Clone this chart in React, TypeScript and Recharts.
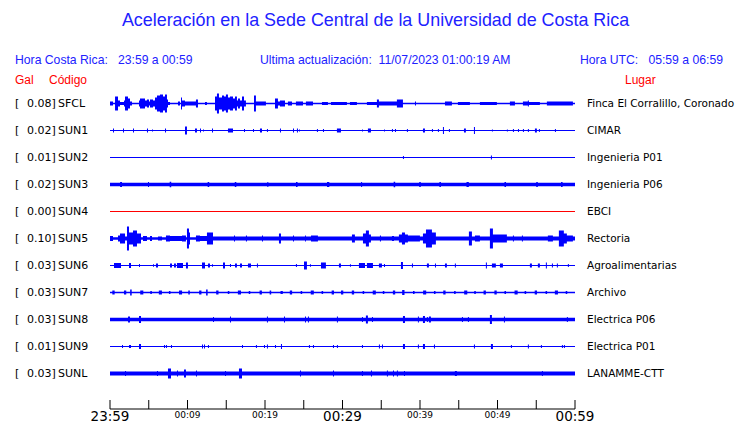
import { ComposedChart, Area, XAxis, YAxis } from 'recharts'

// station rows, top to bottom
const stations = ['SFCL', 'SUN1', 'SUN2', 'SUN3', 'SUN4', 'SUN5', 'SUN6', 'SUN7', 'SUN8', 'SUN9', 'SUNL']
const peakGal = ['0.08', '0.02', '0.01', '0.02', '0.00', '0.10', '0.03', '0.03', '0.03', '0.01', '0.03']
const places = [
  'Finca El Corralillo, Coronado',
  'CIMAR',
  'Ingenieria P01',
  'Ingenieria P06',
  'EBCI',
  'Rectoria',
  'Agroalimentarias',
  'Archivo',
  'Electrica P06',
  'Electrica P01',
  'LANAMME-CTT',
]

// minutes after 23:59
const tickMinutes = [0, 5, 10, 15, 20, 25, 30, 35, 40, 45, 50, 55, 60]
const tickLabels = ['23:59', '', '00:09', '', '00:19', '', '00:29', '', '00:39', '', '00:49', '', '00:59']

// quiet half-amplitude of each trace (row spacing = 27 units)
const baseAmp = [0.8, 0.6, 0.5, 1.8, 0.5, 2, 0.6, 0.8, 1.7, 0.6, 2]

// bursts: [from minute, to minute, half amplitude]
const sfcl = [
  [0, 0.39, 2], [0.65, 1.03, 7], [1.03, 1.29, 3], [1.29, 1.81, 1.5], [1.81, 1.94, 3], [1.94, 2.32, 7],
  [2.32, 2.58, 5], [2.58, 2.84, 2], [3.74, 3.87, 3], [3.87, 4.52, 5], [4.52, 4.77, 3], [4.77, 5.03, 4],
  [5.03, 5.16, 2], [5.16, 5.55, 4], [5.55, 5.81, 3], [5.81, 6.06, 6], [6.06, 6.45, 8], [6.45, 6.84, 9],
  [6.84, 7.1, 7], [7.1, 7.35, 9], [7.35, 7.48, 4], [7.48, 7.74, 1.5], [8.77, 9.03, 2], [9.16, 9.29, 6],
  [9.29, 9.68, 3], [9.68, 11.09, 2], [11.09, 11.35, 4], [12.26, 12.51, 1.5], [13.55, 13.8, 7],
  [13.8, 14.06, 10], [14.06, 14.45, 6], [14.45, 14.71, 8], [14.71, 14.96, 7], [14.96, 15.22, 9],
  [15.22, 15.48, 6], [15.48, 15.87, 7], [15.87, 16.13, 5], [16.13, 16.38, 7], [16.38, 16.51, 3],
  [16.51, 16.77, 5], [16.77, 17.03, 3], [17.03, 17.29, 7], [17.29, 17.54, 3], [18.58, 18.83, 8],
  [18.83, 20.12, 2], [21.29, 21.67, 5], [21.67, 21.93, 2], [21.93, 22.58, 3], [22.96, 23.48, 2],
  [23.99, 24.9, 2], [25.28, 26.19, 2], [27.35, 28.12, 1.5], [28.51, 30.57, 1.5], [30.96, 31.86, 1.5],
  [33.15, 34.44, 1.5], [34.44, 34.7, 4], [34.7, 37.02, 2], [37.02, 37.8, 4], [39.35, 39.48, 2],
  [43.22, 44.12, 2], [44.89, 46.44, 1.5], [47.73, 49.92, 1.5], [51.6, 52.25, 2], [53.28, 53.92, 2],
  [53.92, 54.05, 3], [54.05, 55.47, 1.5], [56.37, 59.73, 2],
]
const sun1 = [
  [0.39, 0.52, 2], [1.68, 1.81, 2], [2.97, 3.1, 2], [4.77, 4.9, 2], [5.42, 5.55, 1], [7.1, 7.23, 2],
  [9.68, 9.93, 4], [10.97, 11.22, 2], [11.61, 11.74, 2], [12.0, 12.13, 1], [13.16, 13.29, 2],
  [15.22, 15.87, 2], [17.29, 17.42, 1.5], [18.45, 18.58, 1.5], [19.35, 19.61, 2], [20.25, 20.38, 1.5],
  [21.93, 22.06, 2], [23.61, 23.74, 2], [24.12, 24.25, 2], [24.38, 24.51, 1], [26.7, 26.83, 1.5],
  [27.48, 27.61, 1.5], [29.28, 29.8, 2], [32.51, 32.64, 1], [33.28, 33.67, 2], [35.35, 35.48, 1],
  [36.38, 36.51, 1.5], [36.77, 36.9, 1.5], [38.31, 38.44, 1.5], [40.38, 40.64, 2], [41.54, 41.67, 1.5],
  [42.31, 42.44, 1.5], [42.96, 43.09, 3.5], [43.73, 43.86, 1.5], [45.67, 45.92, 2], [46.96, 47.09, 3.5],
  [49.28, 49.41, 1], [51.21, 51.34, 1], [51.99, 52.12, 1.5], [52.64, 52.77, 1.5], [53.28, 53.41, 1.5],
  [53.92, 54.05, 1.5], [54.83, 55.08, 2], [55.34, 55.47, 1.5], [57.41, 57.54, 1.5],
]
const sun2 = [[37.8, 37.93, 1.5], [49.15, 49.28, 2]]
const sun3 = [
  [1.3, 1.55, 2.6], [4.9, 5.03, 2.5], [7.7, 7.9, 2.8], [12.6, 12.8, 2.5], [16.1, 16.3, 2.6],
  [20.3, 20.43, 2.5], [24.0, 24.2, 2.6], [28.0, 28.3, 2.5], [32.4, 32.53, 2.6], [36.6, 36.8, 2.8],
  [39.9, 40.1, 2.5], [42.5, 42.7, 2.6], [46.0, 46.3, 2.5], [50.9, 51.1, 2.6], [55.0, 55.2, 2.5],
  [58.2, 58.4, 2.6],
]
const sun4: number[][] = []
const sun5 = [
  [0, 0.39, 2.5], [0.39, 1.03, 1.2], [1.03, 1.29, 3], [1.29, 1.94, 5], [1.94, 2.19, 2], [2.19, 2.45, 12],
  [2.45, 2.97, 6], [2.97, 3.48, 8], [3.48, 4.0, 5], [4.0, 4.26, 1.2], [4.26, 4.77, 2.5], [4.77, 5.16, 1.2],
  [5.16, 5.42, 2.5], [5.42, 6.19, 1.2], [6.19, 6.71, 2], [6.71, 7.22, 1.2], [7.22, 7.74, 3],
  [7.74, 9.29, 2.5], [9.29, 9.8, 3], [9.8, 9.93, 1.2], [9.93, 10.19, 10], [10.19, 10.32, 6],
  [10.32, 11.09, 1.2], [11.09, 11.61, 3], [11.61, 12.51, 2.5], [12.51, 13.29, 6], [16.0, 16.13, 3],
  [17.54, 17.67, 3], [19.61, 19.74, 3], [21.8, 22.06, 5], [23.61, 23.74, 3], [25.16, 25.28, 3],
  [25.93, 26.83, 3], [31.22, 31.6, 4], [32.64, 33.02, 5], [33.02, 33.41, 8], [33.41, 33.67, 4],
  [34.83, 34.96, 3], [36.38, 36.64, 2.5], [37.28, 37.67, 4], [37.67, 38.06, 6], [38.06, 38.44, 4],
  [38.44, 39.99, 3], [40.38, 40.77, 5], [40.77, 41.54, 9], [41.54, 42.05, 6], [46.31, 46.7, 7],
  [47.09, 47.73, 3], [49.02, 49.41, 10], [49.41, 51.21, 4], [51.99, 52.12, 3], [53.15, 53.28, 3],
  [56.5, 57.15, 3], [57.92, 58.56, 8], [58.56, 58.95, 5], [58.95, 59.73, 3],
]
const sun6 = [
  [0.52, 1.42, 2.5], [2.45, 2.71, 2.5], [3.74, 3.87, 1.5], [5.55, 5.68, 1.2], [5.93, 6.19, 2],
  [7.74, 8.0, 2], [8.26, 8.51, 2], [8.64, 9.42, 2.5], [9.8, 10.06, 3], [11.87, 12.26, 3], [12.64, 12.9, 2],
  [13.16, 13.29, 1.2], [14.58, 14.84, 3], [15.48, 15.61, 1.5], [16.13, 16.38, 2], [16.77, 17.03, 2],
  [17.8, 18.19, 2], [18.96, 19.09, 2], [23.99, 24.12, 1.5], [25.03, 25.41, 4], [25.8, 25.93, 1.2],
  [27.22, 27.86, 3], [29.54, 29.8, 2], [30.96, 31.09, 1.2], [32.12, 32.9, 2.5], [33.15, 33.93, 2.5],
  [34.7, 35.09, 2], [35.35, 35.48, 1.5], [37.54, 37.8, 3.5], [38.96, 39.09, 2], [40.89, 41.15, 2],
  [41.93, 42.06, 2], [43.22, 43.47, 2], [44.5, 44.63, 2], [48.5, 48.63, 3], [49.28, 49.79, 2],
  [50.31, 50.7, 2], [54.18, 54.44, 2], [55.21, 55.47, 2], [56.24, 56.37, 3], [57.02, 57.15, 2],
  [57.66, 57.79, 2], [59.08, 59.21, 1.5],
]
const sun7 = [
  [0.3, 0.6, 2], [1.8, 2.1, 2], [2.6, 2.8, 3], [3.9, 4.3, 2], [5.2, 5.4, 1.5], [6.3, 6.7, 2],
  [7.6, 7.8, 1.5], [8.9, 9.3, 2], [10.1, 10.3, 2], [11.5, 11.8, 2], [12.4, 12.6, 3], [13.7, 14.0, 2],
  [15.2, 15.4, 1.5], [16.5, 16.9, 2], [17.9, 18.1, 1.5], [19.3, 19.6, 2], [20.6, 20.8, 2],
  [22.0, 22.3, 1.5], [23.2, 23.5, 2], [24.6, 24.8, 1.5], [25.9, 26.3, 2], [27.3, 27.5, 1.5],
  [28.6, 28.9, 2], [29.8, 30.1, 2], [31.2, 31.5, 2], [32.6, 32.8, 1.5], [33.9, 34.3, 2],
  [35.2, 35.4, 1.5], [36.5, 36.8, 2], [37.7, 38.0, 2.5], [39.1, 39.3, 1.5], [40.4, 40.8, 2],
  [41.8, 42.0, 1.5], [43.0, 43.3, 2], [44.4, 44.6, 1.5], [45.7, 46.1, 2], [47.0, 47.2, 1.5],
  [48.2, 48.5, 2], [49.6, 49.9, 2], [50.9, 51.1, 1.5], [52.2, 52.6, 2], [53.5, 53.7, 1.5],
  [54.8, 55.1, 2], [56.2, 56.4, 1.5], [57.4, 57.8, 2], [58.8, 59.0, 1.5],
]
const sun8 = [
  [2.32, 2.58, 3], [3.74, 4.0, 3.5], [13.29, 13.42, 2.5], [15.48, 15.61, 3], [20.25, 20.38, 3],
  [22.45, 22.58, 3], [25.16, 25.29, 3], [25.54, 25.67, 3], [29.28, 29.41, 3], [32.51, 32.64, 2.5],
  [33.02, 33.28, 4], [33.8, 33.93, 2.5], [37.8, 38.06, 3.5], [39.73, 39.86, 3], [40.38, 40.64, 3.5],
  [40.89, 41.02, 2.5], [41.15, 41.41, 3], [45.41, 45.54, 2.5], [46.18, 46.31, 2.5], [49.02, 49.28, 4.5],
  [50.83, 50.96, 3], [58.95, 59.08, 2.5],
]
const sun9 = [
  [1.55, 1.68, 1.5], [2.45, 2.71, 1.5], [3.74, 4.0, 2.5], [6.97, 7.1, 1.5], [7.22, 7.35, 1.5],
  [7.87, 8.0, 1.5], [11.87, 12.0, 2], [12.13, 12.26, 2], [12.64, 12.77, 1.5], [17.03, 17.16, 1.5],
  [18.83, 18.96, 1.5], [19.87, 20.0, 1.5], [20.25, 20.38, 2], [21.29, 21.42, 1.5], [22.06, 22.19, 2.5],
  [25.67, 25.8, 1.5], [26.19, 26.32, 1.5], [28.77, 28.9, 1.5], [29.28, 29.41, 1.5], [32.51, 32.64, 1.5],
  [34.7, 34.83, 2], [35.09, 35.22, 2], [37.8, 38.06, 2.5], [39.73, 39.86, 2], [40.38, 40.64, 2.5],
  [41.8, 41.93, 2], [46.96, 47.09, 2], [49.15, 49.41, 2.5], [51.73, 51.86, 1.5], [53.92, 54.05, 2],
  [55.6, 55.73, 1.5], [58.31, 58.44, 1.5], [58.57, 58.7, 1.5],
]
const sunl = [
  [1.94, 2.07, 2.5], [6.06, 6.19, 2.5], [7.48, 7.87, 5], [8.64, 8.77, 3], [9.55, 9.8, 4],
  [11.09, 11.22, 3], [14.84, 14.97, 2.5], [16.64, 17.03, 5], [24.51, 24.64, 3], [28.77, 28.9, 3],
  [32.51, 32.64, 2.5], [33.67, 33.8, 3], [35.73, 35.86, 3], [36.51, 36.64, 3], [37.02, 37.15, 3],
  [37.93, 38.06, 2.5], [44.5, 44.76, 2.5], [55.73, 55.86, 2.5],
]
const bursts = [sfcl, sun1, sun2, sun3, sun4, sun5, sun6, sun7, sun8, sun9, sunl]

const ROW_GAP = 27
const ROW_TOP = 15.5
const PLOT_TOP = 88
const BLUE = '#0000ff'
const TEXT_BLUE = '#2121ff'

function buildTrace(row: number) {
  const c = ROW_TOP + row * ROW_GAP
  const b = baseAmp[row]
  const pts = [{ t: 0, r: [c - b, c + b] }]
  for (const [a, z, h] of bursts[row]) {
    pts.push({ t: a, r: [c - h, c + h] })
    pts.push({ t: z, r: [c - b, c + b] })
  }
  pts.push({ t: 60, r: [c - b, c + b] })
  return pts
}

function TimeTick(props: any) {
  const { x, y, payload } = props
  const i = tickMinutes.indexOf(payload.value)
  const label = tickLabels[i]
  const big = payload.value % 30 === 0
  return (
    <g>
      <line x1={x} x2={x} y1={y - 9} y2={y} stroke="#000" strokeWidth={1} />
      {label && (
        <text
          x={x}
          y={big ? y + 12 : y + 9}
          textAnchor="middle"
          fontFamily="DejaVu Sans"
          fontSize={big ? 13.5 : 9}
          fill="#000"
        >
          {label}
        </text>
      )}
    </g>
  )
}

const abs = (left: number, top: number, extra: any = {}) => ({
  position: 'absolute' as const,
  left,
  top,
  whiteSpace: 'pre' as const,
  lineHeight: 1,
  ...extra,
})

export default function App() {
  const head = { fontFamily: 'Liberation Sans, Arial, sans-serif', fontSize: 12.2, color: TEXT_BLUE }
  const red = { fontFamily: 'Liberation Sans, Arial, sans-serif', fontSize: 12, color: '#ff0000' }
  const lbl = { fontFamily: 'DejaVu Sans', fontSize: 11, color: '#000' }
  return (
    <div style={{ position: 'absolute', left: 0, top: 0, width: 740, height: 423, background: '#fff' }}>
      <div
        style={abs(0, 12, {
          width: 751,
          textAlign: 'center',
          fontFamily: 'Liberation Sans, Arial, sans-serif',
          fontSize: 17.9,
          color: TEXT_BLUE,
        })}
      >
        Aceleración en la Sede Central de la Universidad de Costa Rica
      </div>
      <div style={abs(15, 54, head)}>{'Hora Costa Rica:   23:59 a 00:59'}</div>
      <div style={abs(260, 54, head)}>{'Ultima actualización:  11/07/2023 01:00:19 AM'}</div>
      <div style={abs(580, 54, head)}>{'Hora UTC:   05:59 a 06:59'}</div>
      <div style={abs(15, 74, red)}>Gal</div>
      <div style={abs(49, 74, red)}>Código</div>
      <div style={abs(625, 74, red)}>Lugar</div>

      {stations.map((s, i) => {
        const cy = PLOT_TOP + ROW_TOP + i * ROW_GAP
        return (
          <div key={s}>
            <div style={abs(15, cy - 6, lbl)}>[</div>
            <div style={abs(27, cy - 6, lbl)}>{peakGal[i] + ']'}</div>
            <div style={abs(58, cy - 6, lbl)}>{s}</div>
            <div style={abs(587, cy - 6, { ...lbl, fontSize: 10.5 })}>{places[i]}</div>
          </div>
        )
      })}

      <div style={{ position: 'absolute', left: 0, top: 0 }}>
        <ComposedChart width={740} height={423} margin={{ top: PLOT_TOP, right: 165, bottom: 0, left: 110 }}>
          <XAxis
            type="number"
            dataKey="t"
            domain={[0, 60]}
            ticks={tickMinutes}
            allowDataOverflow
            height={14}
            axisLine={{ stroke: '#000' }}
            tickLine={false}
            tickSize={0}
            tickMargin={0}
            tick={<TimeTick />}
            interval={0}
          />
          <YAxis hide type="number" width={0} domain={[0, 321]} reversed allowDataOverflow />
          {stations.map((s, i) => (
            <Area
              key={s}
              data={buildTrace(i)}
              dataKey="r"
              type="stepAfter"
              stroke="none"
              fill={peakGal[i] === '0.00' ? '#ff0000' : BLUE}
              fillOpacity={1}
              dot={false}
              activeDot={false}
              isAnimationActive={false}
            />
          ))}
        </ComposedChart>
      </div>
    </div>
  )
}
